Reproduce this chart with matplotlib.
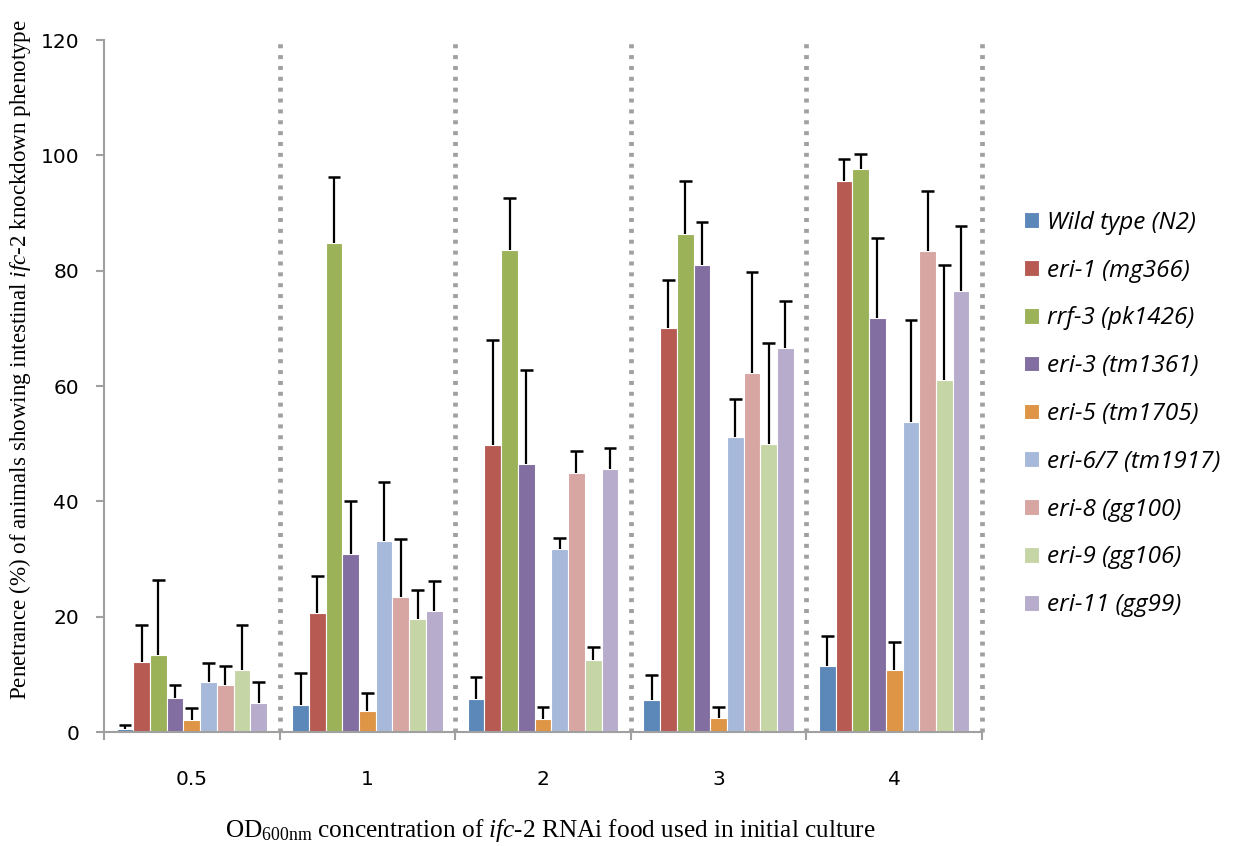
import numpy as np
import matplotlib
matplotlib.use("Agg")
import matplotlib.pyplot as plt

plt.rcParams['mathtext.fontset'] = 'custom'
plt.rcParams['mathtext.rm'] = 'Liberation Serif'
plt.rcParams['mathtext.it'] = 'Liberation Serif:italic'

concentrations = ['0.5', '1', '2', '3', '4']
strains = ['Wild type (N2)', 'eri-1 (mg366)', 'rrf-3 (pk1426)', 'eri-3 (tm1361)',
           'eri-5 (tm1705)', 'eri-6/7 (tm1917)', 'eri-8 (gg100)', 'eri-9 (gg106)',
           'eri-11 (gg99)']
colors = ['#5B87B9', '#B75B52', '#9CB259', '#826EA0', '#DE9546',
          '#A7B9DA', '#D7A5A2', '#C6D5A6', '#B7ACCC']

# penetrance (%) per strain, one value per OD600 concentration
penetrance = [
    [0.6, 4.7, 5.8, 5.6, 11.4],
    [12.1, 20.7, 49.7, 70.1, 95.5],
    [13.3, 84.8, 83.5, 86.4, 97.7],
    [5.9, 30.8, 46.4, 80.9, 71.8],
    [2.0, 3.6, 2.2, 2.5, 10.7],
    [8.6, 33.1, 31.8, 51.1, 53.8],
    [8.2, 23.4, 45.0, 62.3, 83.4],
    [10.8, 19.6, 12.5, 49.9, 61.1],
    [5.1, 20.9, 45.6, 66.6, 76.5],
]
# upper error bar tops (%)
err_top = [
    [1.3, 10.3, 9.6, 9.9, 16.7],
    [18.6, 27.0, 67.9, 78.3, 99.3],
    [26.4, 96.2, 92.6, 95.6, 100.3],
    [8.2, 40.0, 62.8, 88.5, 85.7],
    [4.2, 6.7, 4.4, 4.4, 15.6],
    [11.9, 43.3, 33.7, 57.7, 71.5],
    [11.5, 33.4, 48.7, 79.8, 93.9],
    [18.6, 24.6, 14.8, 67.4, 80.9],
    [8.6, 26.2, 49.3, 74.8, 87.7],
]

fig = plt.figure(figsize=(12.35, 8.46), dpi=100)
ax = fig.add_axes([104 / 1235, 1 - 732 / 846, 878 / 1235, 692 / 846])

x = np.arange(len(concentrations))
n = len(strains)
w = 1 / (n + 1.5)
cap = w * 0.38
for j in range(n):
    vals = np.array(penetrance[j])
    tops = np.array(err_top[j])
    pos = x + (j - (n - 1) / 2) * w
    ax.bar(pos, vals, width=w, color=colors[j], edgecolor='white',
           linewidth=0.8, label=strains[j], zorder=2)
    # upper-only error bars
    ax.vlines(pos, vals, tops, color='black', lw=1.6, zorder=3)
    ax.hlines(tops, pos - cap, pos + cap, color='black', lw=1.8, zorder=3)

# dotted separators between concentration groups
for b in np.arange(0.5, len(concentrations), 1.0):
    ax.plot([b, b], [0, 120], color='#A0A0A0', lw=3.4,
            linestyle=(0, (0.85, 1.45)), dash_capstyle='butt',
            clip_on=False, zorder=1)

ax.set_xlim(-0.5, len(concentrations) - 0.5)
ax.set_ylim(0, 120)
ax.set_yticks(np.arange(0, 121, 20))
ax.set_xticks(x)
ax.set_xticklabels(concentrations)
ax.set_xticks(np.arange(-0.5, len(concentrations), 1.0), minor=True)

for s in ['top', 'right']:
    ax.spines[s].set_visible(False)
for s in ['left', 'bottom']:
    ax.spines[s].set_color('#A0A0A0')
    ax.spines[s].set_linewidth(1.5)

ax.tick_params(axis='y', direction='out', length=6, width=1.5, color='#A0A0A0',
               labelsize=14.5, pad=12)
ax.tick_params(axis='x', which='major', length=0, labelsize=14.5, pad=27)
ax.tick_params(axis='x', which='minor', direction='out', length=6, width=1.5,
               color='#A0A0A0')

fig.text(20 / 1235, 1 - 360 / 846,
         r'Penetrance (%) of animals showing intestinal $\mathit{ifc}$-$\mathit{2}$ knockdown phenotype',
         rotation=90, ha='center', va='center', family='Liberation Serif', fontsize=16.6)
fig.text(550 / 1235, 1 - 830 / 846,
         r'OD$_{\mathrm{600nm}}$ concentration of $\mathit{ifc}$-$\mathit{2}$ RNAi food used in initial culture',
         ha='center', va='center', family='Liberation Serif', fontsize=18.2)

ax.legend(loc='center left', bbox_to_anchor=(1012 / 1235, 1 - 414 / 846),
          bbox_transform=fig.transFigure, frameon=False, borderpad=0,
          handlelength=0.62, handleheight=0.62, handletextpad=0.33,
          labelspacing=0.98, prop={'family': 'Open Sans', 'style': 'italic', 'size': 17.5})

fig.savefig('out.png', dpi=100)
